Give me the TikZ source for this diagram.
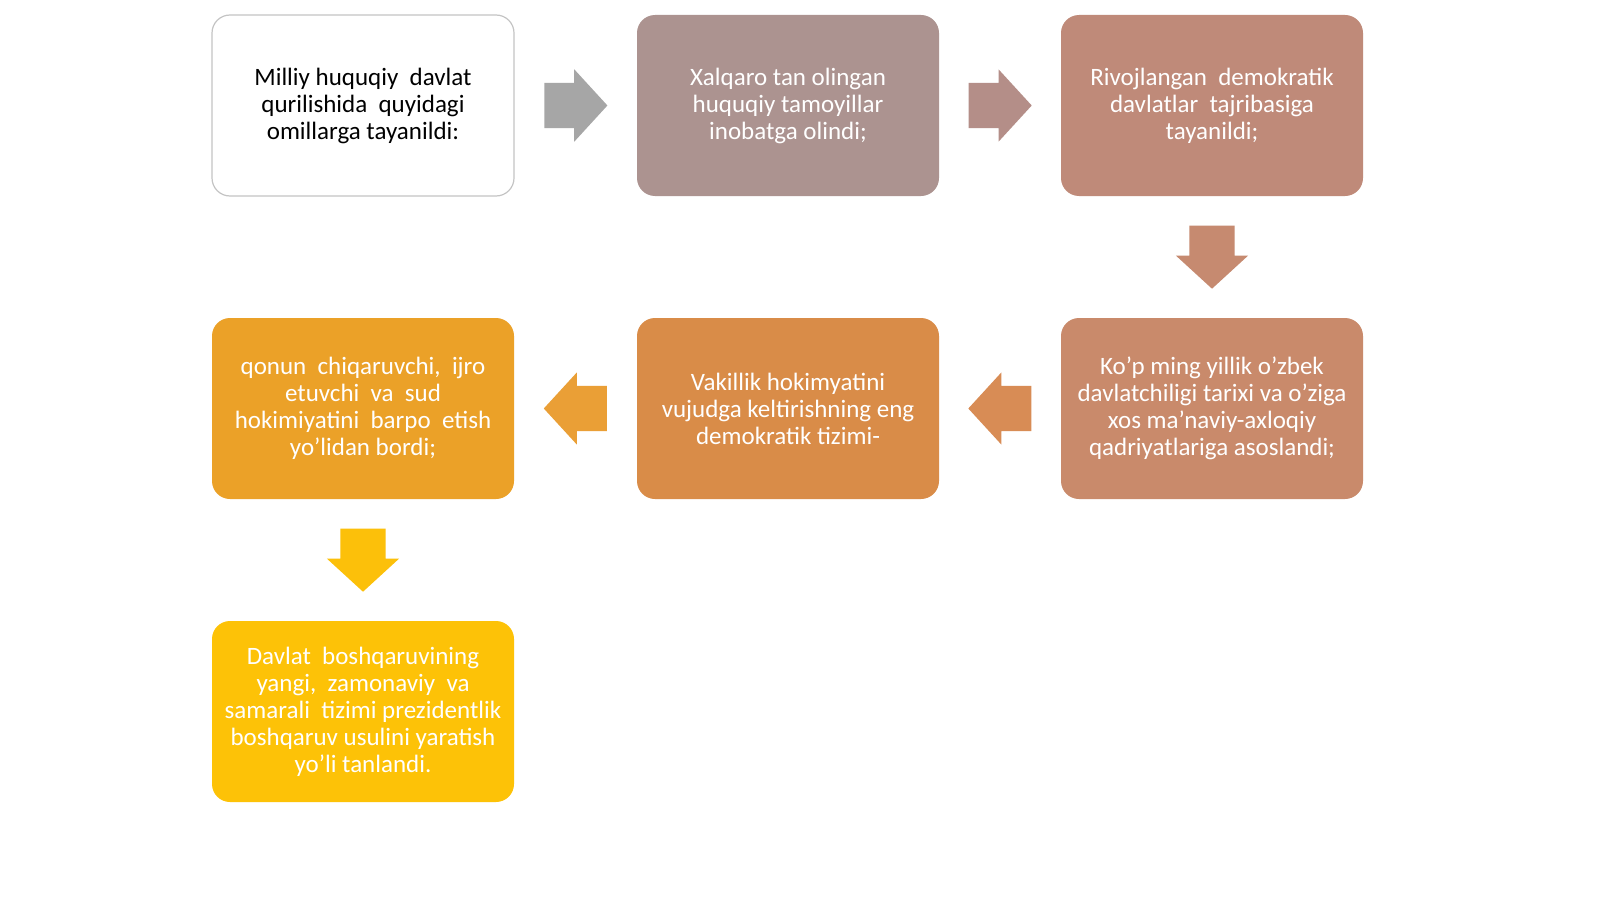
\documentclass[tikz,border=0pt]{standalone}
\usepackage{fontspec}
\setmainfont{Carlito}
\usetikzlibrary{shapes.arrows, calc}
\definecolor{cGrey}{HTML}{A6A6A6}
\definecolor{cLine}{HTML}{C4C4C4}
\definecolor{cRose}{HTML}{AC9390}
\definecolor{cRoseArr}{HTML}{B48E88}
\definecolor{cClay}{HTML}{BF8A79}
\definecolor{cClayArr}{HTML}{C68A70}
\definecolor{cTerra}{HTML}{C98A6B}
\definecolor{cTerraArr}{HTML}{D88C55}
\definecolor{cOrange}{HTML}{D98C48}
\definecolor{cOrangeArr}{HTML}{EA9F36}
\definecolor{cAmber}{HTML}{EBA128}
\definecolor{cAmberArr}{HTML}{FCC00A}
\definecolor{cGold}{HTML}{FDC207}

\begin{document}
\begin{tikzpicture}[x=1pt,y=-1pt,
  box/.style={rounded corners=18pt, minimum width=302pt, minimum height=181pt,
    align=center, text=white, inner sep=4pt, font=\fontsize{25}{27}\selectfont},
  blockarrow/.style={single arrow, anchor=tail, minimum height=63pt, inner xsep=0pt,
    inner ysep=22.5pt, single arrow head extend=13.5pt, single arrow tip angle=95}]
 \useasboundingbox (0,0) rectangle (1600,899);
 \fill[white] (0,0) rectangle (1600,899);
 % top row
 \node[box, draw=cLine, line width=1.2pt, fill=white, text=black] (milliy) at (363,105.5)
   {Milliy huquqiy\ \ davlat\\qurilishida\ \ quyidagi\\omillarga tayanildi:};
 \node[box, fill=cRose] (xalqaro) at (788,105.5)
   {Xalqaro tan olingan\\huquqiy tamoyillar\\inobatga olindi;};
 \node[box, fill=cClay] (rivoj) at (1212,105.5)
   {Rivojlangan\ \ demokratik\\davlatlar\ \ tajribasiga\\tayanildi;};
 % middle row
 \node[box, fill=cTerra] (kop) at (1212,408.5)
   {Ko’p ming yillik o’zbek\\davlatchiligi tarixi va o’ziga\\xos ma’naviy-axloqiy\\qadriyatlariga asoslandi;};
 \node[box, fill=cOrange] (vakil) at (788,408.5)
   {Vakillik hokimyatini\\vujudga keltirishning eng\\demokratik tizimi-};
 \node[box, fill=cAmber] (qonun) at (363,408.5)
   {qonun\ \ chiqaruvchi,\ \ ijro\\etuvchi\ \ va\ \ sud\\hokimiyatini\ \ barpo\ \ etish\\yo’lidan bordi;};
 % bottom row
 \node[box, fill=cGold] (davlat) at (363,711.5)
   {Davlat\ \ boshqaruvining\\yangi,\ \ zamonaviy\ \ va\\samarali\ \ tizimi prezidentlik\\boshqaruv usulini yaratish\\yo’li tanlandi.};
 % arrows, tail set back half a length from the middle of each gap
 \node[blockarrow, fill=cGrey] (a1)
   at ($(milliy.east)!0.5!(xalqaro.west)!31.5pt!(milliy.east)$) {};
 \node[blockarrow, fill=cRoseArr] (a2)
   at ($(xalqaro.east)!0.5!(rivoj.west)!31.5pt!(xalqaro.east)$) {};
 \node[blockarrow, fill=cClayArr, rotate=-90] (a3)
   at ($(rivoj.south)!0.5!(kop.north)!31.5pt!(rivoj.south)$) {};
 \node[blockarrow, fill=cTerraArr, rotate=180] (a4)
   at ($(kop.west)!0.5!(vakil.east)!31.5pt!(kop.west)$) {};
 \node[blockarrow, fill=cOrangeArr, rotate=180] (a5)
   at ($(vakil.west)!0.5!(qonun.east)!31.5pt!(vakil.west)$) {};
 \node[blockarrow, fill=cAmberArr, rotate=-90] (a6)
   at ($(qonun.south)!0.5!(davlat.north)!31.5pt!(qonun.south)$) {};
\end{tikzpicture}
\end{document}
